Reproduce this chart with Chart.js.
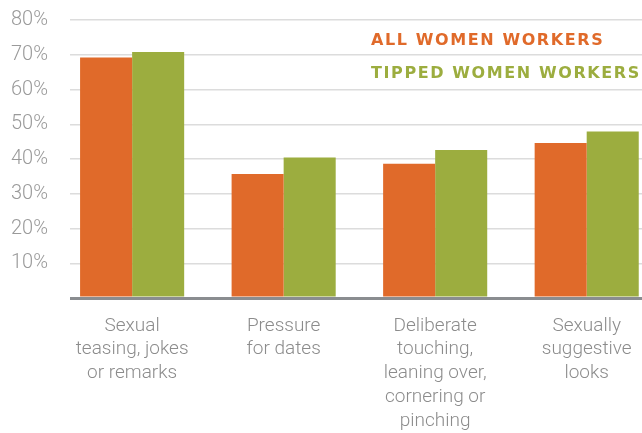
<!DOCTYPE html>
<html>
<head>
<meta charset="utf-8">
<script src="https://cdn.jsdelivr.net/npm/chart.js@4.4.1/dist/chart.umd.min.js"></script>
<style>
  html, body { margin: 0; padding: 0; background: #fff; overflow: hidden; }
  #wrap { position: relative; width: 642px; height: 433px; }
  #c { position: absolute; left: 0; top: 0; }
  .leg { position: absolute; left: 371px; font-family: "DejaVu Sans", sans-serif; font-weight: bold; font-size: 16px; letter-spacing: 1.6px; white-space: nowrap; line-height: 1.164; }
</style>
</head>
<body>
<div id="wrap">
  <canvas id="c" width="642" height="433"></canvas>
  <div class="leg" id="leg1" style="top:31px;color:#E06A2A">ALL WOMEN WORKERS</div>
  <div class="leg" id="leg2" style="top:64px;color:#9CAD3F">TIPPED WOMEN WORKERS</div>
</div>
<script>
const categories = [
  ["Sexual", "teasing, jokes", "or remarks"],
  ["Pressure", "for dates"],
  ["Deliberate", "touching,", "leaning over,", "cornering or", "pinching"],
  ["Sexually", "suggestive", "looks"]
];
const allWomenWorkers = [69.2, 35.7, 38.6, 44.6];
const tippedWomenWorkers = [70.8, 40.4, 42.6, 47.9];
const yTicks = [0, 10, 20, 30, 40, 50, 60, 70, 80];
const seriesNames = ["ALL WOMEN WORKERS", "TIPPED WOMEN WORKERS"];

const ORANGE = "#E06A2A";
const GREEN = "#9CAD3F";

const toPoints = arr => arr.map((v, i) => ({ x: i, y: v }));

new Chart(document.getElementById("c"), {
  type: "bar",
  data: {
    datasets: [
      { label: seriesNames[0], data: toPoints(allWomenWorkers), backgroundColor: ORANGE, categoryPercentage: 0.687, barPercentage: 1.0 },
      { label: seriesNames[1], data: toPoints(tippedWomenWorkers), backgroundColor: GREEN, categoryPercentage: 0.687, barPercentage: 1.0 }
    ]
  },
  options: {
    responsive: false,
    animation: false,
    layout: { padding: { left: 0, right: 0, top: 20, bottom: 0 } },
    plugins: { legend: { display: false }, tooltip: { enabled: false } },
    scales: {
      x: {
        type: "linear",
        offset: false,
        min: -0.41,
        max: 3.365,
        afterBuildTicks: s => { s.ticks = categories.map((c, i) => ({ value: i })); },
        afterFit: s => { s.height = 135; s.paddingLeft = 0; s.paddingRight = 0; },
        grid: { display: false, drawTicks: false },
        border: { display: false },
        ticks: {
          autoSkip: false,
          maxRotation: 0,
          padding: 16,
          color: "#8c8c8c",
          font: { family: "Roboto", weight: 300, size: 19, lineHeight: 1.25 },
          callback: (v) => categories[v] || ""
        }
      },
      y: {
        min: 0,
        max: 80,
        afterBuildTicks: s => { s.ticks = yTicks.map(v => ({ value: v })); },
        afterFit: s => { s.width = 70; s.paddingTop = 0; s.paddingBottom = 0; },
        grid: {
          color: ctx => ctx.tick && ctx.tick.value === 0 ? "#8a8d90" : "#dcdcdc",
          lineWidth: ctx => ctx.tick && ctx.tick.value === 0 ? 3 : 1.5,
          drawTicks: false
        },
        border: { display: false },
        ticks: {
          padding: 22,
          color: "#9a9a9a",
          font: { family: "Roboto", weight: 300, size: 20 },
          callback: v => v === 0 ? "" : v + "%"
        }
      }
    }
  }
});
</script>
</body>
</html>
